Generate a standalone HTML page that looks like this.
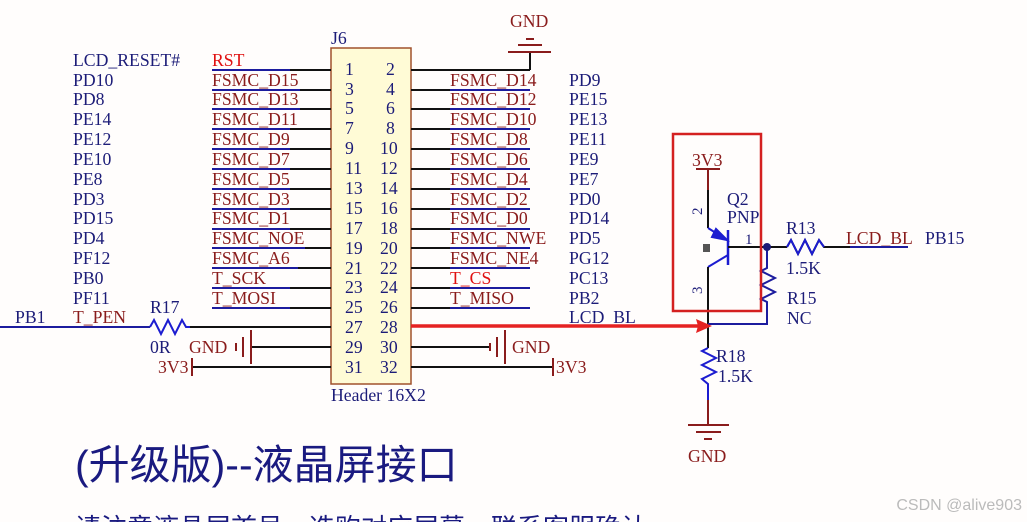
<!DOCTYPE html>
<html><head><meta charset="utf-8"><style>
html,body{margin:0;padding:0;background:#fffdfc;width:1027px;height:522px;overflow:hidden}
svg{display:block}
text{font-family:"Liberation Serif",serif;font-size:17.7px}
.b{fill:#1c1c78}.r{fill:#8a1c1c}.rr{fill:#e01010}
</style></head><body>
<svg width="1027" height="522" viewBox="0 0 1027 522">
<!-- header -->
<rect x="331" y="48" width="80" height="336" fill="#fffbd6" stroke="#a0522d" stroke-width="1.5"/>
<text x="331" y="44" class="b">J6</text>
<text x="331" y="401" class="b">Header 16X2</text>
<g class="b" style="font-size:17px">
<text x="345" y="75">1</text><text x="386" y="75">2</text>
<text x="345" y="95">3</text><text x="386" y="95">4</text>
<text x="345" y="114">5</text><text x="386" y="114">6</text>
<text x="345" y="134">7</text><text x="386" y="134">8</text>
<text x="345" y="154">9</text><text x="380" y="154">10</text>
<text x="345" y="174">11</text><text x="380" y="174">12</text>
<text x="345" y="194">13</text><text x="380" y="194">14</text>
<text x="345" y="214">15</text><text x="380" y="214">16</text>
<text x="345" y="234">17</text><text x="380" y="234">18</text>
<text x="345" y="254">19</text><text x="380" y="254">20</text>
<text x="345" y="274">21</text><text x="380" y="274">22</text>
<text x="345" y="293">23</text><text x="380" y="293">24</text>
<text x="345" y="313">25</text><text x="380" y="313">26</text>
<text x="345" y="333">27</text><text x="380" y="333">28</text>
<text x="345" y="353">29</text><text x="380" y="353">30</text>
<text x="345" y="373">31</text><text x="380" y="373">32</text>
</g>
<!-- pin wires -->
<g stroke="#111" stroke-width="2">
<line x1="212" y1="70" x2="331" y2="70"/><line x1="212" y1="90" x2="331" y2="90"/>
<line x1="212" y1="109" x2="331" y2="109"/><line x1="212" y1="129" x2="331" y2="129"/>
<line x1="212" y1="149" x2="331" y2="149"/><line x1="212" y1="169" x2="331" y2="169"/>
<line x1="212" y1="189" x2="331" y2="189"/><line x1="212" y1="209" x2="331" y2="209"/>
<line x1="212" y1="229" x2="331" y2="229"/><line x1="212" y1="248" x2="331" y2="248"/>
<line x1="212" y1="268" x2="331" y2="268"/><line x1="212" y1="288" x2="331" y2="288"/>
<line x1="212" y1="308" x2="331" y2="308"/>
<line x1="411" y1="70" x2="530" y2="70"/><line x1="411" y1="90" x2="530" y2="90"/>
<line x1="411" y1="109" x2="530" y2="109"/><line x1="411" y1="129" x2="530" y2="129"/>
<line x1="411" y1="149" x2="530" y2="149"/><line x1="411" y1="169" x2="530" y2="169"/>
<line x1="411" y1="189" x2="530" y2="189"/><line x1="411" y1="209" x2="530" y2="209"/>
<line x1="411" y1="229" x2="530" y2="229"/><line x1="411" y1="248" x2="530" y2="248"/>
<line x1="411" y1="268" x2="530" y2="268"/><line x1="411" y1="288" x2="530" y2="288"/>
<line x1="411" y1="308" x2="530" y2="308"/>
<line x1="190" y1="327" x2="331" y2="327"/>
<line x1="252" y1="347" x2="331" y2="347"/><line x1="192" y1="367" x2="331" y2="367"/>
<line x1="411" y1="347" x2="490" y2="347"/><line x1="411" y1="367" x2="553" y2="367"/>
<line x1="530" y1="70" x2="530" y2="52"/>
</g>
<g stroke="#1c1c9e" stroke-width="2">
<line x1="212" y1="70" x2="290" y2="70"/><line x1="212" y1="90" x2="300" y2="90"/>
<line x1="212" y1="109" x2="300" y2="109"/><line x1="212" y1="129" x2="290" y2="129"/>
<line x1="212" y1="149" x2="290" y2="149"/><line x1="212" y1="169" x2="290" y2="169"/>
<line x1="212" y1="189" x2="290" y2="189"/><line x1="212" y1="209" x2="290" y2="209"/>
<line x1="212" y1="229" x2="290" y2="229"/><line x1="212" y1="248" x2="305" y2="248"/>
<line x1="212" y1="268" x2="298" y2="268"/><line x1="212" y1="288" x2="290" y2="288"/>
<line x1="212" y1="308" x2="290" y2="308"/>
<line x1="450" y1="90" x2="530" y2="90"/><line x1="450" y1="109" x2="530" y2="109"/>
<line x1="450" y1="129" x2="530" y2="129"/><line x1="450" y1="149" x2="530" y2="149"/>
<line x1="450" y1="169" x2="530" y2="169"/><line x1="450" y1="189" x2="530" y2="189"/>
<line x1="450" y1="209" x2="530" y2="209"/><line x1="450" y1="229" x2="530" y2="229"/>
<line x1="450" y1="248" x2="530" y2="248"/><line x1="450" y1="268" x2="530" y2="268"/>
<line x1="450" y1="288" x2="530" y2="288"/><line x1="450" y1="308" x2="530" y2="308"/>
<line x1="0" y1="327" x2="150" y2="327"/>
</g>
<polyline points="150,327 154,320 161,334 168,320 175,334 182,320 186,327 190,327" fill="none" stroke="#1c1cd0" stroke-width="2"/>
<text x="150" y="313" class="b">R17</text><text x="150" y="353" class="b">0R</text>
<text x="189" y="353" class="r">GND</text>
<g stroke="#8a1c1c" stroke-width="2">
<line x1="236" y1="343" x2="236" y2="351"/><line x1="243" y1="337" x2="243" y2="357"/><line x1="251" y1="330" x2="251" y2="364"/>
<line x1="192" y1="358" x2="192" y2="376"/>
<line x1="505" y1="330" x2="505" y2="364"/><line x1="497" y1="337" x2="497" y2="357"/><line x1="490" y1="343" x2="490" y2="351"/>
<line x1="553" y1="358" x2="553" y2="376"/>
<line x1="508" y1="52" x2="551" y2="52"/><line x1="518" y1="45" x2="542" y2="45"/><line x1="526" y1="39" x2="534" y2="39"/>
</g>
<text x="158" y="373" class="r">3V3</text>
<text x="512" y="353" class="r">GND</text>
<text x="556" y="373" class="r">3V3</text>
<text x="510" y="27" class="r">GND</text>
<g class="b">
<text x="73" y="66">LCD_RESET#</text><text x="73" y="86">PD10</text><text x="73" y="105">PD8</text>
<text x="73" y="125">PE14</text><text x="73" y="145">PE12</text><text x="73" y="165">PE10</text>
<text x="73" y="185">PE8</text><text x="73" y="205">PD3</text><text x="73" y="224">PD15</text>
<text x="73" y="244">PD4</text><text x="73" y="264">PF12</text><text x="73" y="284">PB0</text>
<text x="73" y="304">PF11</text><text x="15" y="323">PB1</text>
<text x="569" y="86">PD9</text><text x="569" y="105">PE15</text><text x="569" y="125">PE13</text>
<text x="569" y="145">PE11</text><text x="569" y="165">PE9</text><text x="569" y="185">PE7</text>
<text x="569" y="205">PD0</text><text x="569" y="224">PD14</text><text x="569" y="244">PD5</text>
<text x="569" y="264">PG12</text><text x="569" y="284">PC13</text><text x="569" y="304">PB2</text>
<text x="569" y="323">LCD_BL</text><text x="925" y="244">PB15</text>
</g>
<g class="r">
<text x="212" y="66" class="rr">RST</text><text x="212" y="86">FSMC_D15</text><text x="212" y="105">FSMC_D13</text>
<text x="212" y="125">FSMC_D11</text><text x="212" y="145">FSMC_D9</text><text x="212" y="165">FSMC_D7</text>
<text x="212" y="185">FSMC_D5</text><text x="212" y="205">FSMC_D3</text><text x="212" y="224">FSMC_D1</text>
<text x="212" y="244">FSMC_NOE</text><text x="212" y="264">FSMC_A6</text><text x="212" y="284">T_SCK</text>
<text x="212" y="304">T_MOSI</text><text x="73" y="323">T_PEN</text>
<text x="450" y="86">FSMC_D14</text><text x="450" y="105">FSMC_D12</text><text x="450" y="125">FSMC_D10</text>
<text x="450" y="145">FSMC_D8</text><text x="450" y="165">FSMC_D6</text><text x="450" y="185">FSMC_D4</text>
<text x="450" y="205">FSMC_D2</text><text x="450" y="224">FSMC_D0</text><text x="450" y="244">FSMC_NWE</text>
<text x="450" y="264">FSMC_NE4</text><text x="450" y="284" class="rr">T_CS</text><text x="450" y="304">T_MISO</text>
<text x="846" y="244">LCD_BL</text>
</g>
<g stroke-width="2" fill="none">
<line x1="696" y1="169" x2="720" y2="169" stroke="#8a1c1c"/>
<line x1="708" y1="169" x2="708" y2="190" stroke="#8a1c1c"/>
<line x1="708" y1="190" x2="708" y2="228" stroke="#111"/>
<line x1="708" y1="228" x2="727" y2="240" stroke="#1c1cd0"/>
<polygon points="727,240 716,229 712,237" fill="#1c1cd0" stroke="#1c1cd0"/>
<line x1="728" y1="230" x2="728" y2="265" stroke="#1c1cd0" stroke-width="2.5"/>
<line x1="728" y1="255" x2="708" y2="267" stroke="#1c1cd0"/>
<line x1="708" y1="267" x2="708" y2="348" stroke="#111"/>
<line x1="728" y1="247" x2="787" y2="247" stroke="#111"/>
<polyline points="787,247 791,240 798,254 805,240 812,254 819,240 824,247 908,247" stroke="#111"/>
<polyline points="787,247 791,240 798,254 805,240 812,254 819,240 824,247" stroke="#1c1cd0"/>
<line x1="850" y1="247" x2="908" y2="247" stroke="#1c1c9e"/>
<polyline points="767,247 767,268 761,271 775,278 761,285 775,292 761,299 767,302 767,324 708,324" stroke="#1c1c9e"/>
<polyline points="708,348 702,351 716,358 702,365 716,372 702,379 708,384 708,425" stroke="#1c1cd0"/>
<line x1="708" y1="400" x2="708" y2="425" stroke="#8a1c1c"/>
<line x1="688" y1="425" x2="729" y2="425" stroke="#8a1c1c"/>
<line x1="696" y1="432" x2="721" y2="432" stroke="#8a1c1c"/>
<line x1="704" y1="439" x2="712" y2="439" stroke="#8a1c1c"/>
<rect x="673" y="134" width="88" height="177" stroke="#d42020" stroke-width="2.5"/>
<line x1="411" y1="326" x2="698" y2="326" stroke="#e52222" stroke-width="3.5"/>
</g>
<polygon points="712,326 696,319 698,326 696,333" fill="#e52222"/>
<circle cx="767" cy="247" r="4" fill="#1c1c78"/>
<rect x="703" y="244" width="7" height="8" fill="#555"/>
<text x="692" y="166" class="r">3V3</text>
<text x="727" y="205" class="b">Q2</text><text x="727" y="223" class="b">PNP</text>
<text x="745" y="244" class="b" style="font-size:15px">1</text>
<text transform="translate(702,215) rotate(-90)" class="b" style="font-size:15px">2</text>
<text transform="translate(702,294) rotate(-90)" class="b" style="font-size:15px">3</text>
<text x="786" y="234" class="b">R13</text><text x="786" y="274" class="b">1.5K</text>
<text x="787" y="304" class="b">R15</text><text x="787" y="324" class="b">NC</text>
<text x="716" y="362" class="b">R18</text><text x="718" y="382" class="b">1.5K</text>
<text x="688" y="462" class="r">GND</text>
<text x="75" y="479" fill="#1a1a80" style="font-family:'Liberation Sans','Noto Sans CJK SC',sans-serif;font-size:41px">(升级版)--液晶屏接口</text>
<text x="75" y="537" fill="#1a1a80" style="font-family:'Liberation Sans','Noto Sans CJK SC',sans-serif;font-size:26px">请注意液晶屏首号，选购对应屏幕，联系客服确认</text>
<text x="1022" y="510" text-anchor="end" fill="#bbb" style="font-family:'Liberation Sans',sans-serif;font-size:16px">CSDN @alive903</text>
</svg>
</body></html>
